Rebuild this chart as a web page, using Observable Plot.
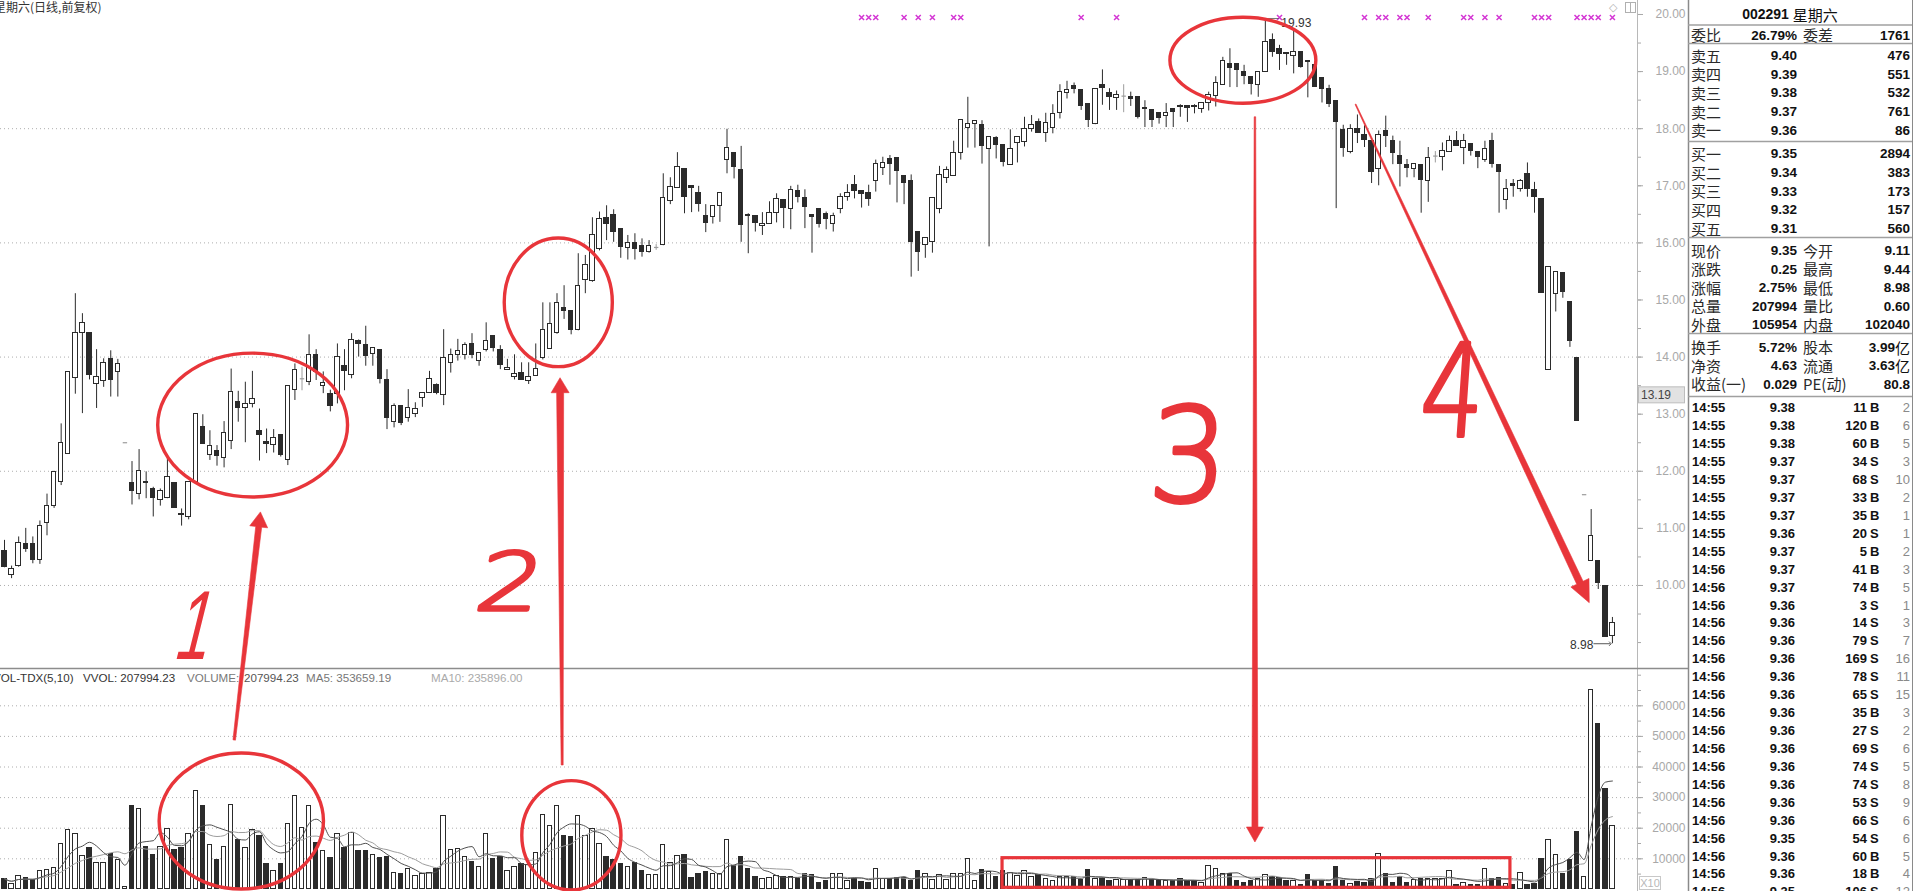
<!DOCTYPE html>
<html><head><meta charset="utf-8">
<script src="https://cdn.jsdelivr.net/npm/d3@7"></script>
<script src="https://cdn.jsdelivr.net/npm/@observablehq/plot@0.6"></script>
<style>
html,body{margin:0;padding:0;background:#fff;overflow:hidden}
#root{position:relative;width:1913px;height:891px;overflow:hidden;background:#fff}
#price,#vol{position:absolute;left:0}
#price{top:0}#vol{top:668px}
svg.layer{position:absolute;left:0;top:0;pointer-events:none;overflow:hidden}
</style></head><body>
<div id="root"><div id="price"></div><div id="vol"></div>
<svg id="deco" class="layer" width="1913" height="891"></svg>
<svg id="ann" class="layer" width="1913" height="891"></svg></div>
<script>
// ---------------- daily candles (index 1..228) ----------------
const opens = [10.61,10.19,10.34,10.72,10.72,10.44,11.10,11.40,11.82,12.31,
13.64,14.43,14.43,13.53,13.58,13.97,13.74,12.50,11.80,11.60,
11.82,11.69,11.49,11.53,11.80,11.25,11.20,11.82,12.77,12.29,
12.35,12.24,12.53,13.22,13.10,13.18,12.71,12.52,12.46,12.64,
12.19,13.43,13.62,13.56,14.04,13.50,13.36,13.36,13.85,13.69,
14.29,14.21,14.06,14.12,13.59,12.86,13.15,12.94,13.01,13.29,
13.37,13.51,13.34,13.90,14.04,14.04,14.23,13.94,14.13,14.37,
14.12,13.78,13.65,13.72,13.58,13.66,13.99,14.15,14.42,14.86,
14.80,14.48,15.35,15.33,15.90,16.44,16.48,16.25,15.91,16.00,
15.95,15.84,15.92,15.97,16.74,16.96,17.30,16.99,16.88,16.47,
16.46,16.65,17.46,17.58,17.28,16.49,16.47,16.30,16.33,16.53,
16.75,16.60,16.90,16.79,16.49,16.60,16.51,16.33,16.60,16.80,
17.01,16.90,16.87,17.08,17.32,17.47,17.49,17.17,17.09,16.19,
15.97,16.01,16.60,17.14,17.17,17.58,18.01,18.09,18.07,17.65,
17.84,17.72,17.36,17.75,17.76,18.00,18.12,17.92,18.01,18.28,
18.63,18.75,18.67,18.44,18.09,18.77,18.63,18.54,18.57,18.55,
18.56,18.34,18.33,18.27,18.23,18.35,18.40,18.39,18.40,18.35,
18.45,18.58,18.77,19.14,19.14,19.00,18.90,18.77,19.00,19.56,
19.40,19.33,19.28,19.34,19.18,19.11,18.89,18.70,18.48,17.98,
17.60,18.00,17.89,17.78,17.30,17.96,17.78,17.53,17.37,17.30,
17.37,17.09,17.52,17.50,17.59,17.78,17.67,17.74,17.59,17.46,
17.78,17.36,16.75,17.03,16.95,17.20,16.93,16.76,13.78,15.10,
15.48,14.97,13.99,11.59,10.43,10.42,9.99,9.11];
const highs = [10.79,10.34,10.85,11.00,10.85,11.13,11.60,12.00,12.83,13.74,
15.11,14.76,14.43,14.13,13.97,14.11,13.96,12.50,12.17,12.38,
11.99,11.72,11.69,12.22,11.80,11.34,11.82,13.01,12.99,12.71,
12.45,12.87,13.79,13.40,13.56,13.75,13.09,12.74,12.73,12.64,
13.50,13.88,13.82,14.39,14.13,13.74,13.42,14.23,14.13,14.41,
14.30,14.54,14.16,14.12,13.78,13.18,13.15,13.43,13.20,13.37,
13.75,13.53,14.48,14.14,14.31,14.25,14.41,14.07,14.60,14.37,
14.20,13.96,14.04,13.90,13.90,14.23,14.95,14.95,15.11,15.25,
14.80,15.81,15.78,16.44,16.54,16.65,16.58,16.25,16.13,16.16,
16.07,16.04,15.97,17.21,17.14,17.58,17.30,16.99,16.99,16.67,
16.64,16.87,17.99,17.58,17.69,16.51,16.47,16.53,16.72,16.86,
16.75,16.99,17.01,16.93,16.49,16.60,16.54,16.52,16.86,17.02,
17.18,16.90,17.01,17.45,17.50,17.53,17.49,17.17,17.19,16.19,
16.09,16.79,17.34,17.33,17.78,18.16,18.55,18.13,18.14,17.86,
17.86,17.72,17.98,17.86,18.20,18.23,18.17,18.27,18.42,18.77,
18.83,18.80,18.67,18.44,18.70,19.03,18.70,18.66,18.77,18.64,
18.56,18.49,18.33,18.27,18.44,18.35,18.42,18.39,18.42,18.45,
18.64,18.91,19.25,19.40,19.14,19.11,18.90,19.00,19.93,19.66,
19.46,19.33,19.72,19.34,19.18,19.11,18.89,18.76,18.48,18.06,
18.07,18.24,18.05,17.78,17.96,18.22,17.87,17.78,17.46,17.39,
17.37,17.67,17.60,17.75,17.87,17.95,17.90,17.74,17.59,17.78,
17.92,17.36,17.11,17.11,17.11,17.40,17.06,16.76,15.57,15.49,
15.48,14.97,13.99,11.59,11.33,10.42,9.99,9.44];
const lows = [10.31,10.12,10.32,10.58,10.38,10.37,10.87,11.35,11.75,12.31,
13.35,13.01,13.60,13.10,13.47,13.30,13.30,12.50,11.41,11.50,
11.52,11.20,11.39,11.52,11.36,11.04,11.15,11.78,12.47,12.19,
12.09,12.06,12.38,12.86,12.50,13.11,12.18,12.31,12.32,12.25,
12.10,13.24,13.41,13.50,13.59,13.36,13.04,13.18,13.41,13.62,
14.00,13.84,13.84,13.53,12.73,12.76,12.80,12.86,12.94,13.12,
13.37,13.34,13.15,13.72,13.93,13.95,13.97,13.84,14.09,14.09,
13.78,13.78,13.60,13.59,13.52,13.66,13.95,14.14,14.40,14.66,
14.39,14.46,15.11,15.31,15.86,16.04,16.01,15.73,15.70,15.70,
15.75,15.82,15.87,15.95,16.67,16.96,16.51,16.53,16.54,16.18,
16.33,16.36,17.21,17.12,16.01,15.81,16.19,16.13,16.33,16.35,
16.25,16.23,16.70,16.25,15.82,16.26,16.23,16.19,16.51,16.73,
16.77,16.61,16.64,16.89,17.18,17.01,16.70,16.67,15.40,15.50,
15.73,15.82,16.51,17.04,17.17,17.45,17.66,17.66,17.38,15.93,
17.47,17.33,17.36,17.40,17.68,17.94,17.92,17.76,17.91,18.17,
18.52,18.61,18.32,18.02,18.07,18.41,18.32,18.32,18.28,18.39,
18.17,18.02,18.02,18.08,18.02,18.02,18.20,18.11,18.26,18.27,
18.31,18.38,18.77,18.72,18.72,18.77,18.59,18.55,19.00,19.25,
19.02,19.11,18.96,19.06,18.54,18.73,18.45,18.37,16.60,17.50,
17.56,17.74,17.67,17.04,17.00,17.67,17.37,16.98,17.14,17.14,
16.52,16.71,17.40,17.26,17.59,17.69,17.37,17.52,17.30,17.41,
17.31,16.52,16.58,16.80,16.89,16.80,16.52,15.12,13.78,14.79,
15.03,14.17,12.88,11.59,10.43,9.93,9.10,8.98];
const closes = [10.33,10.28,10.75,10.64,10.44,11.05,11.40,11.98,12.50,13.74,
14.43,14.60,13.69,13.65,13.90,13.60,13.88,12.50,11.66,12.01,
11.80,11.53,11.66,11.90,11.36,11.23,11.82,13.01,12.47,12.45,
12.27,12.67,13.39,13.11,13.18,13.27,12.64,12.48,12.59,12.29,
13.50,13.78,13.62,14.04,13.73,13.55,13.15,14.01,13.75,14.30,
14.23,14.02,14.16,13.62,12.93,13.15,12.84,13.11,13.09,13.37,
13.62,13.37,13.99,14.04,14.10,14.21,14.04,14.07,14.29,14.16,
13.87,13.81,13.71,13.60,13.65,13.79,14.48,14.58,14.95,14.80,
14.48,15.24,15.62,16.14,16.42,16.33,16.19,15.93,16.00,15.90,
15.84,15.95,15.92,16.79,16.98,17.33,16.80,16.96,16.68,16.35,
16.64,16.87,17.66,17.33,16.31,16.47,16.35,16.33,16.53,16.77,
16.61,16.93,16.80,16.63,16.45,16.33,16.41,16.47,16.80,16.87,
16.91,16.86,16.77,17.38,17.40,17.38,17.26,17.05,16.01,15.84,
16.09,16.79,17.19,17.28,17.58,18.16,18.09,18.13,17.69,17.85,
17.71,17.41,17.65,17.86,18.00,18.07,17.92,18.10,18.26,18.64,
18.68,18.70,18.39,18.16,18.70,18.71,18.55,18.59,18.57,18.52,
18.20,18.37,18.16,18.19,18.27,18.29,18.38,18.37,18.38,18.45,
18.59,18.80,19.18,19.06,19.02,18.92,18.79,19.00,19.52,19.34,
19.31,19.31,19.34,19.08,19.16,18.73,18.70,18.44,18.11,17.67,
18.00,17.92,17.80,17.24,17.89,17.87,17.58,17.39,17.32,17.39,
17.11,17.48,17.52,17.61,17.78,17.69,17.79,17.61,17.50,17.65,
17.39,17.25,16.94,16.99,17.08,16.95,16.80,15.12,15.57,15.49,
15.14,14.29,12.88,11.59,10.87,10.04,9.10,9.35];
// volume (axis units, x10 shares)
const volumes = [3500,1850,4350,3700,3150,6100,6400,7100,14900,19500,
18200,11000,13400,8700,8700,11650,9700,760,27300,26400,
14000,11100,14000,19800,13000,13400,18000,32300,27100,14600,
9500,14000,27700,16100,13400,19500,17400,8300,6100,8300,
21500,30600,20000,27300,15300,12600,10100,18200,13400,18500,
12600,12600,11400,10200,10500,5400,4900,6800,4500,5000,
5400,6800,24000,13000,13300,10600,9100,7300,18000,9900,
10500,6100,7300,8300,7900,12000,24400,20800,27300,17500,
17000,24000,17400,19600,14900,10500,9700,8300,7300,8500,
5900,4800,4800,14600,8700,10800,11100,3800,5000,5800,
4900,5100,16300,7600,10500,6800,4100,3500,3700,4400,
4000,4000,3500,5100,4800,2100,2600,5100,5100,2600,
3500,2400,2100,6800,3300,3300,3700,3700,2900,5900,
5100,3200,4800,3200,5100,5100,10000,2600,6500,5800,
4000,5900,5400,4500,6100,4000,4600,3500,2900,4000,
4000,4000,3200,6200,3300,3700,2900,3200,3200,3200,
3200,3800,3200,2700,2700,2900,3500,2900,2700,2200,
7500,6800,5100,5100,2600,2200,2600,3300,4600,4000,
3800,2700,2600,1600,4800,2900,2900,1900,7200,2900,
1900,2400,2100,3500,11700,5100,2100,4000,2100,3200,
3500,3500,3300,3500,6100,1600,2200,1600,1600,6800,
3500,3800,1900,1300,5400,1600,1900,9800,16200,11100,
4900,9700,18900,4200,65300,53900,32900,20800];
// signal markers (candle index)
const signalIdx = [122,123,124,128,130,132,135,136,153,158,181,193,195,196,198,199,202,207,208,210,212,217,218,219,223,224,225,226,228];
// axis ticks
const priceTicks = [10,11,12,13,14,15,16,17,18,19,20];
const priceGrid = [10,12,14,16,18];
const volTicks = [10000,20000,30000,40000,50000,60000];
// texts
const headerText = "星期六(日线,前复权)";
const volHeader = [["VOL-TDX(5,10)","#333"],["VVOL: 207994.23","#333"],["VOLUME:","#777"],["207994.23","#555"],["MA5: 353659.19","#777"],["MA10: 235896.00","#aaa"]];
const cursorPrice = "13.19";
// right quote panel
const quoteTitle = ["002291", "星期六"];
const weiRow = ["委比","26.79%","委差","1761"];
const askLabels = ["卖五","卖四","卖三","卖二","卖一"], askPrices = ["9.40","9.39","9.38","9.37","9.36"], askVols = ["476","551","532","761","86"];
const bidLabels = ["买一","买二","买三","买四","买五"], bidPrices = ["9.35","9.34","9.33","9.32","9.31"], bidVols = ["2894","383","173","157","560"];
const statRows = [["现价","9.35","今开","9.11"],["涨跌","0.25","最高","9.44"],["涨幅","2.75%","最低","8.98"],["总量","207994","量比","0.60"],["外盘","105954","内盘","102040"]];
const finRows = [["换手","5.72%","股本","3.99亿"],["净资","4.63","流通","3.63亿"],["收益(一)","0.029","PE(动)","80.8"]];
const tickTimes = ["14:55","14:55","14:55","14:55","14:55","14:55","14:55","14:55","14:55","14:56","14:56","14:56","14:56","14:56","14:56","14:56","14:56","14:56","14:56","14:56","14:56","14:56","14:56","14:56","14:56","14:56","14:56","14:56"];
const tickPrices = ["9.38","9.38","9.38","9.37","9.37","9.37","9.37","9.36","9.37","9.37","9.37","9.36","9.36","9.36","9.36","9.36","9.36","9.36","9.36","9.36","9.36","9.36","9.36","9.36","9.35","9.36","9.36","9.35"];
const tickVols = ["11","120","60","34","68","33","35","20","5","41","74","3","14","79","169","78","65","35","27","69","74","74","53","66","54","60","18","106"];
const tickSides = ["B","B","B","S","S","B","B","S","B","B","B","S","S","S","S","S","S","B","S","S","S","S","S","S","S","B","B","S"];
const tickCounts = ["2","6","5","3","10","2","1","1","2","3","5","1","3","7","16","11","15","3","2","6","5","8","9","6","6","5","4","12"];
// hand-drawn annotations (data coordinates: candle index / price or volume)
const annEllipses = [
 {panel:"price", i:36.1, v:12.80, di:13.4, dv:1.26},
 {panel:"price", i:79.25, v:14.95, di:7.63, dv:1.126},
 {panel:"price", i:175.9, v:19.19, di:10.3, dv:0.753},
 {panel:"volume", i:34.5, v:22190, di:11.6, dv:22220},
 {panel:"volume", i:81.1, v:17520, di:7.0, dv:17880}];
const annArrows = [
 {from:{panel:"volume", i:33.5, v:48660}, to:{panel:"price", i:37.2, v:11.28}, w0:2.5, w1:6, head:15, headW:18},
 {from:{panel:"volume", i:79.8, v:40490}, to:{panel:"price", i:79.5, v:13.63}, w0:2, w1:7, head:15, headW:18},
 {from:{panel:"price", i:177.6, v:18.20}, to:{panel:"volume", i:177.6, v:15330}, w0:1.5, w1:6, head:15, headW:17},
 {from:{panel:"price", i:191.8, v:18.42}, to:{panel:"price", i:224.8, v:9.69}, w0:1, w1:7, head:22, headW:20}];
const annBoxes = [{panel:"volume", i0:141.9, i1:213.6, v0:520, v1:10200}];
// digits: anchored at the bottom-centre of each handwritten figure
const annDigits = [
 {text:"1", panel:"price", i:27.1, v:8.70, size:98, font:'"Liberation Sans", Arial, sans-serif', weight:400, skew:-14, sx:0.62, sw:0},
 {text:"2", panel:"price", i:71.7, v:9.56, size:80, font:"DejaVu Sans", weight:200, skew:-12, sx:1.28, sw:3.4},
 {text:"3", panel:"price", i:167.9, v:11.47, size:130, font:"DejaVu Sans", weight:200, skew:-3, sx:0.95, sw:4.4},
 {text:"4", panel:"price", i:205.1, v:12.61, size:128, font:"DejaVu Sans", weight:200, skew:-4, sx:0.78, sw:4.0}];

// ---------------- build ----------------
const candles = opens.map((o,k)=>({i:k+1, open:o, high:highs[k], low:lows[k], close:closes[k], vol:volumes[k]}));
const up = candles.filter(d=>d.close>d.open), down = candles.filter(d=>d.close<d.open), flat = candles.filter(d=>d.close===d.open);
const INK = "#2b2b2b", FLAT = "#9c9c9c", AX = "#a8a8a8", RED = "#e8353a";
const BW = 0.31;
const xDomain = [0.435, 231.54];
const fontNum = '"Liberation Sans", Arial, sans-serif';
const fontCJK = '"Noto Sans CJK SC", "Noto Sans", sans-serif';
const peak = candles.reduce((a,b)=>b.high>a.high?b:a);
const trough = candles.reduce((a,b)=>b.low<a.low?b:a);

const priceChart = Plot.plot({
  width:1688, height:668, marginLeft:0, marginRight:51, marginTop:0, marginBottom:0,
  x:{domain:xDomain, axis:null},
  y:{domain:[8.546, 20.245], axis:null, label:null},
  style:{background:"transparent", fontFamily:fontNum, fontSize:"12px", overflow:"visible"},
  marks:[
    Plot.gridY(priceGrid, {stroke:"#9a9a9a", strokeOpacity:0.8, strokeDasharray:"1,3"}),
    Plot.axisY(d3.range(9, 20.01, 0.5), {anchor:"right", tickSize:3, tickFormat:()=>"", color:AX, label:null}),
    Plot.axisY(priceTicks, {anchor:"right", tickSize:5, tickPadding:43, textAnchor:"end", tickFormat:d=>d.toFixed(2), color:AX, label:null, fontSize:12}),
    Plot.ruleX([xDomain[1]], {stroke:"#b8b8b8"}),
    Plot.ruleX(up.concat(down), {x:"i", y1:"low", y2:"high", stroke:INK, strokeWidth:1}),
    Plot.ruleX(flat, {x:"i", y1:"low", y2:"high", stroke:FLAT, strokeWidth:1}),
    Plot.rect(up, {x1:d=>d.i-BW, x2:d=>d.i+BW, y1:"open", y2:"close", fill:"#fff", stroke:INK, strokeWidth:1, shapeRendering:"crispEdges"}),
    Plot.rect(down, {x1:d=>d.i-BW, x2:d=>d.i+BW, y1:"open", y2:"close", fill:INK, stroke:INK, strokeWidth:1, shapeRendering:"crispEdges"}),
    Plot.link(flat, {x1:d=>d.i-BW, x2:d=>d.i+BW, y1:"open", y2:"close", stroke:FLAT, strokeWidth:1.2}),
    Plot.dot(signalIdx, {x:d=>d, frameAnchor:"top", dy:17, symbol:"times", r:2.4, stroke:"#d436d4", strokeWidth:1.5}),
    Plot.text([peak], {x:"i", y:"high", text:d=>d.high.toFixed(2), dx:16, dy:5, textAnchor:"start", fill:"#333", fontSize:12}),
    Plot.link([peak], {x1:"i", x2:d=>d.i+1.9, y1:"high", y2:"high", stroke:"#555", strokeWidth:0.8}),
    Plot.text([trough], {x:"i", y:"low", text:d=>d.low.toFixed(2), dx:-19, dy:1, textAnchor:"end", fill:"#333", fontSize:12}),
    Plot.link([trough], {x1:d=>d.i-2.68, x2:d=>d.i-0.3, y1:"low", y2:"low", stroke:"#444", strokeWidth:0.9, markerEnd:"arrow"})
  ]
});
document.getElementById("price").appendChild(priceChart);

// moving averages of volume (computed from the bars)
function ma(n){ return candles.map((d,k)=>{ const s = volumes.slice(Math.max(0,k-n+1), k+1); return {i:d.i, v:d3.mean(s)}; }); }
const ma5 = ma(5), ma10 = ma(10);
const upV = candles.filter(d=>d.close>=d.open), downV = candles.filter(d=>d.close<d.open);
const volChart = Plot.plot({
  width:1688, height:223, marginLeft:0, marginRight:51, marginTop:0, marginBottom:0,
  x:{domain:xDomain, axis:null},
  y:{domain:[-686, 72190], axis:null, label:null},
  style:{background:"transparent", fontFamily:fontNum, fontSize:"12px", overflow:"visible"},
  marks:[
    Plot.gridY(volTicks, {stroke:"#9a9a9a", strokeOpacity:0.8, strokeDasharray:"1,3"}),
    Plot.axisY(d3.range(5000, 70001, 5000), {anchor:"right", tickSize:3, tickFormat:()=>"", color:AX, label:null}),
    Plot.axisY(volTicks, {anchor:"right", tickSize:5, tickPadding:43, textAnchor:"end", tickFormat:d=>String(d), color:AX, label:null, fontSize:12}),
    Plot.ruleX([xDomain[1]], {stroke:"#b8b8b8"}),
    Plot.rect(upV, {x1:d=>d.i-BW, x2:d=>d.i+BW, y1:0, y2:"vol", fill:"#fff", stroke:INK, strokeWidth:1, shapeRendering:"crispEdges"}),
    Plot.rect(downV, {x1:d=>d.i-BW, x2:d=>d.i+BW, y1:0, y2:"vol", fill:INK, stroke:INK, strokeWidth:1, shapeRendering:"crispEdges"}),
    Plot.line(ma10, {x:"i", y:"v", stroke:"#9d9d9d", strokeWidth:1, curve:"monotone-x"}),
    Plot.line(ma5, {x:"i", y:"v", stroke:"#505050", strokeWidth:1, curve:"monotone-x"})
  ]
});
document.getElementById("vol").appendChild(volChart);

// ---------------- decorations / text panel ----------------
const deco = d3.select("#deco");
deco.append("line").attr("x1",0).attr("x2",1688).attr("y1",668.5).attr("y2",668.5).attr("stroke","#8c8c8c").attr("stroke-width",1.5);
deco.append("text").attr("x",-6).attr("y",12).attr("font-family",fontCJK).attr("font-size",12).attr("fill","#333").text(headerText);
const vhX = [-7, 83, 187, 244, 306, 431];
volHeader.forEach(([t,c],k)=>deco.append("text").attr("x",vhX[k]).attr("y",682).attr("font-family",fontNum).attr("font-size",11.6).attr("fill",c).text(t));
// top-right icons
deco.append("text").attr("x",1609).attr("y",11).attr("font-size",11).attr("fill","#b0b0b0").attr("font-family","DejaVu Sans").text("◇");
deco.append("rect").attr("x",1625.5).attr("y",2.5).attr("width",10).attr("height",10).attr("fill","none").attr("stroke","#b0b0b0");
deco.append("line").attr("x1",1630.5).attr("x2",1630.5).attr("y1",2.5).attr("y2",12.5).attr("stroke","#b0b0b0");
// X10 box
deco.append("rect").attr("x",1639.5).attr("y",876.5).attr("width",21).attr("height",13).attr("fill","#fff").attr("stroke","#c8c8c8");
deco.append("text").attr("x",1650).attr("y",887).attr("text-anchor","middle").attr("font-family",fontNum).attr("font-size",11).attr("fill","#b8b8b8").text("X10");
// cursor price box
{
  const yc = priceChart.scale("y"); const f = yc.apply ? v=>yc.apply(v) : d3.scaleLinear(yc.domain, yc.range);
  const y0 = f(+cursorPrice) - 8;
  deco.append("rect").attr("x",1638.5).attr("y",y0-8).attr("width",46).attr("height",16).attr("fill","#e2e2e2").attr("stroke","#bdbdbd");
  deco.append("text").attr("x",1641).attr("y",y0+4.5).attr("font-family",fontNum).attr("font-size",12).attr("fill","#444").text(cursorPrice);
}
// right panel frame
const PX0 = 1688, PX1 = 1912;
deco.append("line").attr("x1",PX0+0.5).attr("x2",PX0+0.5).attr("y1",0).attr("y2",891).attr("stroke","#8a8a8a").attr("stroke-width",1.5);
deco.append("line").attr("x1",PX1+0.5).attr("x2",PX1+0.5).attr("y1",0).attr("y2",891).attr("stroke","#8a8a8a");
[25, 43.5, 141.5, 237.5, 333.5, 396.5].forEach(y=>deco.append("line").attr("x1",PX0).attr("x2",PX1).attr("y1",y).attr("y2",y).attr("stroke","#a0a0a0").attr("stroke-width",1.5));
function label(x,y,s){ deco.append("text").attr("x",x).attr("y",y).attr("dominant-baseline","central").attr("font-family",fontCJK).attr("font-size",15).attr("fill","#2a2a2a").text(s); }
function value(x,y,s,opt={}){
  const t = deco.append("text").attr("x",x).attr("y",y).attr("dominant-baseline","central").attr("text-anchor",opt.anchor||"end").attr("fill",opt.fill||"#111");
  const m = s.match(/^([0-9.:%A-Z]+)(.*)$/);
  t.append("tspan").attr("font-family",fontNum).attr("font-weight",opt.weight||"bold").attr("font-size",opt.size||13.5).text(m?m[1]:s);
  if (m && m[2]) t.append("tspan").attr("font-family",fontCJK).attr("font-size",15).attr("font-weight","normal").text(m[2]);
}
{
  const t = deco.append("text").attr("x",1790).attr("y",14).attr("text-anchor","middle").attr("dominant-baseline","central").attr("fill","#111");
  t.append("tspan").attr("font-family",fontNum).attr("font-weight","bold").attr("font-size",14).text(quoteTitle[0]+" ");
  t.append("tspan").attr("font-family",fontCJK).attr("font-size",15).text(quoteTitle[1]);
}
const L1=1691, V1=1797, L2=1803, V2=1910;
function row4(r,y){ label(L1,y,r[0]); value(V1,y,r[1]); if(r[2]) label(L2,y,r[2]); if(r[3]) value(V2,y,r[3]); }
row4(weiRow, 34.5);
askLabels.forEach((l,k)=>row4([l,askPrices[k],"",askVols[k]], 55+k*18.7));
bidLabels.forEach((l,k)=>row4([l,bidPrices[k],"",bidVols[k]], 153.3+k*18.7));
statRows.forEach((r,k)=>row4(r, 250+k*18.5));
finRows.forEach((r,k)=>row4(r, 346.7+k*18.6));
tickTimes.forEach((t,k)=>{
  const y = 407.3 + k*17.93;
  value(1692,y,t,{anchor:"start", size:13});
  value(1795,y,tickPrices[k],{size:13});
  value(1867,y,tickVols[k],{size:13});
  value(1870,y,tickSides[k],{anchor:"start", size:13});
  value(1910,y,tickCounts[k],{size:13, weight:"normal", fill:"#8a8a8a"});
});

// ---------------- red hand annotations, mapped through the plots' scales ----------------
function scaleFn(s){ return s.apply ? v=>s.apply(v) : d3.scaleLinear(s.domain, s.range); }
const SX = scaleFn(priceChart.scale("x"));
const SPY = scaleFn(priceChart.scale("y"));
const SVY = scaleFn(volChart.scale("y"));
const panelY = (panel, v) => panel === "price" ? SPY(v) : 668 + SVY(v);
const ann = d3.select("#ann");
annBoxes.forEach(b=>{
  const x0 = SX(b.i0), x1 = SX(b.i1), y0 = panelY(b.panel,b.v1), y1 = panelY(b.panel,b.v0);
  ann.append("rect").attr("x",x0).attr("y",y0).attr("width",x1-x0).attr("height",y1-y0).attr("fill","none").attr("stroke",RED).attr("stroke-width",3.2);
});
annEllipses.forEach(e=>{
  const cx = SX(e.i), cy = panelY(e.panel,e.v);
  ann.append("ellipse").attr("cx",cx).attr("cy",cy).attr("rx",Math.abs(SX(e.i+e.di)-cx)).attr("ry",Math.abs(panelY(e.panel,e.v+e.dv)-cy))
    .attr("fill","none").attr("stroke",RED).attr("stroke-width",3.4);
});
annArrows.forEach(a=>{
  const sx = SX(a.from.i), sy = panelY(a.from.panel,a.from.v), tx = SX(a.to.i), ty = panelY(a.to.panel,a.to.v);
  const L = Math.hypot(tx-sx, ty-sy), ux = (tx-sx)/L, uy = (ty-sy)/L, nx = -uy, ny = ux;
  const bx = tx-ux*a.head, by = ty-uy*a.head;
  const pts = [[sx+nx*a.w0/2, sy+ny*a.w0/2],[bx+nx*a.w1/2, by+ny*a.w1/2],[bx+nx*a.headW/2, by+ny*a.headW/2],[tx,ty],
               [bx-nx*a.headW/2, by-ny*a.headW/2],[bx-nx*a.w1/2, by-ny*a.w1/2],[sx-nx*a.w0/2, sy-ny*a.w0/2]];
  ann.append("path").attr("d","M"+pts.map(p=>p.join(",")).join("L")+"Z").attr("fill",RED).attr("stroke",RED).attr("stroke-width",0.6).attr("stroke-linejoin","round");
});
annDigits.forEach(d=>{
  ann.append("text").attr("transform",`translate(${SX(d.i)},${panelY(d.panel,d.v)}) skewX(${d.skew}) scale(${d.sx},1)`)
    .attr("text-anchor","middle").attr("dominant-baseline","alphabetic")
    .attr("font-family",d.font).attr("font-weight",d.weight).attr("font-size",d.size)
    .attr("fill",RED).attr("stroke",RED).attr("stroke-width",d.sw).attr("stroke-linejoin","round").attr("stroke-linecap","round").text(d.text);
});
</script></body></html>
